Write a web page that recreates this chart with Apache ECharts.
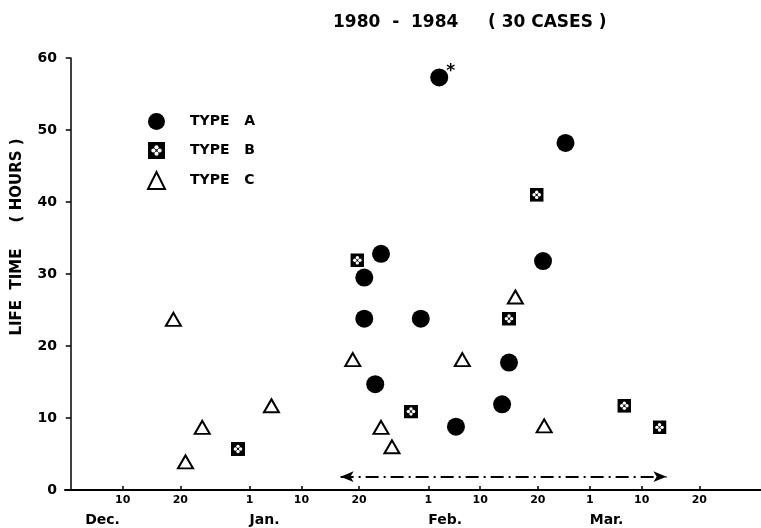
<!DOCTYPE html>
<html>
<head>
<meta charset="utf-8">
<script src="https://cdn.jsdelivr.net/npm/echarts@6/dist/echarts.min.js"></script>
<style>html,body{margin:0;padding:0;background:#fff}#c{width:761px;height:528px}</style>
</head>
<body>
<div id="c"></div>
<script>
// ---- data (x = days counted from Dec 1, y = life time in hours) ----
const titleText = '1980  -  1984     ( 30 CASES )';
const yAxisTitle = 'LIFE  TIME     ( HOURS )';
const seriesNames = ['TYPE   A', 'TYPE   B', 'TYPE   C'];

const typeADays  = [63.9, 85.8, 53.8, 50.9, 81.9, 50.9, 60.7, 76.0, 52.8, 74.8, 66.8];
const typeAHours = [57.3, 48.2, 32.8, 29.5, 31.8, 23.8, 23.8, 17.7, 14.7, 11.9, 8.8];
const typeAStarIndex = 0; // the case marked with "*"

const typeBDays  = [49.7, 80.8, 76.0, 59.0, 29.0, 96.0, 102.1];
const typeBHours = [31.9, 41.0, 23.8, 10.9, 5.7, 11.7, 8.7];

const typeCDays  = [17.8, 19.9, 22.8, 34.8, 48.9, 53.8, 55.7, 67.9, 77.1, 82.1];
const typeCHours = [23.7, 3.9, 8.7, 11.7, 18.1, 8.7, 6.0, 18.1, 26.8, 8.9];

const xTickDays   = [9, 19, 31, 40, 50, 62, 71, 81, 90, 99, 109];
const xTickLabels = ['10', '20', '1', '10', '20', '1', '10', '20', '1', '10', '20'];
const monthDays   = [2.5, 31, 62, 90];
const monthLabels = ['Dec.', 'Jan.', 'Feb.', 'Mar.'];

const periodArrow = [46.8, 103.3]; // observation period (days)
const periodArrowLevel = 1.85;     // hours

const yTicks = [0, 10, 20, 30, 40, 50, 60];

// ---- chart ----
const FONT = 'DejaVu Sans';
const squareSvg = "<svg xmlns='http://www.w3.org/2000/svg' width='28' height='28' viewBox='0 0 14 14'>" +
  "<rect x='0' y='0' width='14' height='14' fill='black'/>" +
  "<circle cx='7' cy='4.4' r='1.7' fill='white'/><circle cx='4.4' cy='7' r='1.7' fill='white'/>" +
  "<circle cx='9.6' cy='7' r='1.7' fill='white'/><circle cx='7' cy='9.6' r='1.7' fill='white'/></svg>";
const squareSymbol = 'image://data:image/svg+xml;charset=utf-8,' + encodeURIComponent(squareSvg);

function pairs(xs, ys) { return xs.map((x, i) => [x, ys[i]]); }

const aData = pairs(typeADays, typeAHours).map((p, i) => i === typeAStarIndex ? {
  value: p,
  label: { show: true, formatter: '*', position: 'right', offset: [-7, -6],
           fontSize: 17, fontWeight: 'bold', color: '#000', fontFamily: FONT }
} : p);

const chart = echarts.init(document.getElementById('c'), null, { renderer: 'canvas' });
chart.setOption({
  animation: false,
  backgroundColor: '#fff',
  title: {
    text: titleText, left: 328, top: 9,
    textStyle: { fontFamily: FONT, fontSize: 17, fontWeight: 'bold', color: '#000' }
  },
  legend: {
    orient: 'vertical', left: 142, top: 108,
    itemWidth: 17, itemHeight: 17, itemGap: 12,
    data: seriesNames,
    textStyle: { fontFamily: FONT, fontSize: 14, fontWeight: 'bold', color: '#000', padding: [0, 0, 0, 20] }
  },
  grid: { left: 65, right: 0, top: 58, bottom: 38, containLabel: false },
  xAxis: [{
    type: 'value', min: -1.0, max: 119.7,
    axisLine: { lineStyle: { color: '#000', width: 2 } },
    splitLine: { show: false },
    axisTick: { show: true, inside: true, length: 4, customValues: xTickDays, lineStyle: { color: '#000', width: 1.5 } },
    axisLabel: {
      customValues: xTickDays, margin: 5,
      formatter: v => { const i = xTickDays.indexOf(v); return i >= 0 ? xTickLabels[i] : ''; },
      fontFamily: FONT, fontSize: 11, fontWeight: 'bold', color: '#000'
    }
  }, {
    type: 'value', min: -1.0, max: 119.7, position: 'bottom',
    axisLine: { show: false }, axisTick: { show: false }, splitLine: { show: false },
    axisLabel: {
      customValues: monthDays, margin: 23, align: 'left',
      formatter: v => { const i = monthDays.indexOf(v); return i >= 0 ? monthLabels[i] : ''; },
      fontFamily: FONT, fontSize: 14, fontWeight: 'bold', color: '#000'
    }
  }],
  yAxis: {
    type: 'value', min: 0, max: 60, interval: 10,
    name: yAxisTitle, nameLocation: 'middle', nameGap: 40, nameRotate: 90,
    nameTextStyle: { fontFamily: FONT, fontSize: 15, fontWeight: 'bold', color: '#000', padding: [0, 0, 0, 74] },
    axisLine: { show: true, lineStyle: { color: '#000', width: 1.5 } },
    splitLine: { show: false },
    axisTick: { show: true, length: 5, customValues: yTicks, lineStyle: { color: '#000', width: 1.5 } },
    axisLabel: { customValues: yTicks, margin: 8, fontFamily: FONT, fontSize: 14, fontWeight: 'bold', color: '#000' }
  },
  series: [{
    name: seriesNames[0], type: 'scatter', symbol: 'circle', symbolSize: 18,
    itemStyle: { color: '#000', opacity: 1 },
    data: aData
  }, {
    name: seriesNames[1], type: 'scatter', symbol: squareSymbol, symbolSize: 14,
    itemStyle: { color: '#000', opacity: 1 },
    data: pairs(typeBDays, typeBHours)
  }, {
    name: seriesNames[2], type: 'scatter', symbol: 'triangle', symbolSize: [15, 13],
    itemStyle: { color: '#fff', borderColor: '#000', borderWidth: 2, opacity: 1 },
    data: pairs(typeCDays, typeCHours),
    markLine: {
      silent: true, animation: false,
      symbol: ['arrow', 'arrow'], symbolSize: [8, 13],
      label: { show: false },
      lineStyle: { color: '#000', width: 2, type: [13, 5, 2, 5] },
      data: [[{ coord: [periodArrow[0], periodArrowLevel] }, { coord: [periodArrow[1], periodArrowLevel] }]]
    }
  }]
});
</script>
</body>
</html>
